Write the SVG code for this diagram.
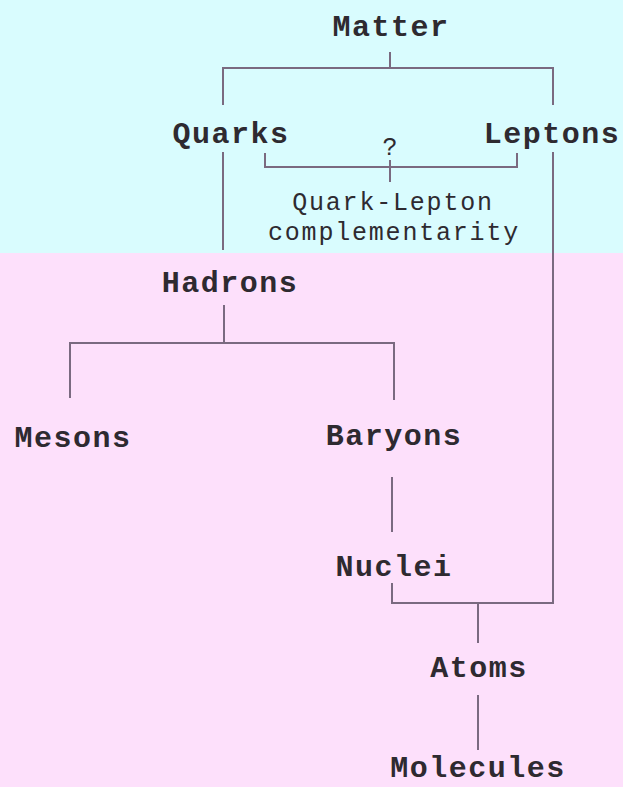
<svg xmlns="http://www.w3.org/2000/svg" width="623" height="787" viewBox="0 0 623 787">
<style>
.t{font-family:"Liberation Mono","DejaVu Sans Mono",monospace;font-size:30px;font-weight:bold;letter-spacing:1.5px;fill:#2e2a30;text-anchor:middle}
.s{font-family:"Liberation Mono","DejaVu Sans Mono",monospace;font-size:25px;letter-spacing:1.8px;fill:#2e2a30;text-anchor:middle}
.c{fill:none;stroke:#7a6a80;stroke-width:2}
</style>
<rect x="0" y="0" width="623" height="253" fill="#d9fcfe"/>
<rect x="0" y="253" width="623" height="534" fill="#fde0fb"/>
<g id="connectors">
<path class="c" d="M390 52V68M223 105V68H553V105"/>
<path class="c" d="M265 153V167H517V153M390 160V182"/>
<path class="c" d="M223 152V250"/>
<path class="c" d="M553 152V603H392V583"/>
<path class="c" d="M224 305V343M70 398V343H394V400"/>
<path class="c" d="M392 477V532"/>
<path class="c" d="M478 603V643M478 695V750"/>
</g>
<g id="matter"><text class="t" x="391" y="36">Matter</text></g>
<g id="quarks"><text class="t" x="231" y="143">Quarks</text></g>
<g id="leptons"><text class="t" x="552" y="143">Leptons</text></g>
<g id="question"><text class="s" x="391" y="155">?</text></g>
<g id="complementarity"><text class="s" x="393" y="210">Quark-Lepton</text><text class="s" x="394" y="240">complementarity</text></g>
<g id="hadrons"><text class="t" x="230" y="292">Hadrons</text></g>
<g id="mesons"><text class="t" x="73" y="447">Mesons</text></g>
<g id="baryons"><text class="t" x="394" y="445">Baryons</text></g>
<g id="nuclei"><text class="t" x="394" y="576">Nuclei</text></g>
<g id="atoms"><text class="t" x="479" y="677">Atoms</text></g>
<g id="molecules"><text class="t" x="478" y="777">Molecules</text></g>
</svg>
